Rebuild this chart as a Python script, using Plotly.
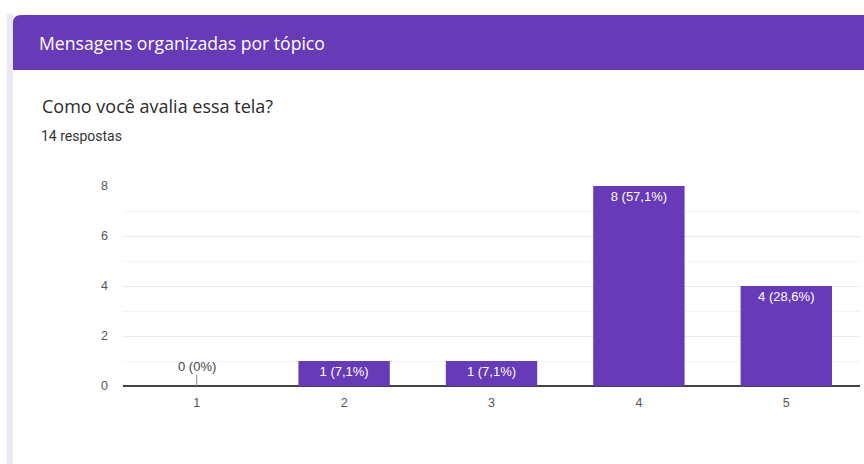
import plotly.graph_objects as go

# Survey results: "Como você avalia essa tela?"
ratings = ["1", "2", "3", "4", "5"]
counts = [0, 1, 1, 8, 4]
total_responses = 14
section_title = "Mensagens organizadas por tópico"
question = "Como você avalia essa tela?"
y_ticks = [0, 2, 4, 6, 8]

W, H = 864, 464
PURPLE = "#673ab7"


def px_x(v):
    return v / W


def px_y(v):
    return 1 - v / H


def fmt_label(n):
    pct = 100 * n / total_responses
    if n == 0:
        return "0 (0%)"
    return f"{n} ({pct:.1f}%)".replace(".", ",")


labels = [fmt_label(c) for c in counts]
bar_text = [lab if c > 0 else "" for lab, c in zip(labels, counts)]

fig = go.Figure(
    go.Bar(
        x=ratings,
        y=counts,
        width=0.62,
        marker=dict(color=PURPLE, line=dict(width=0)),
        text=bar_text,
        textposition="inside",
        insidetextanchor="end",
        textangle=0,
        constraintext="none",
        textfont=dict(family="Liberation Sans, Arial", size=13, color="white"),
        hoverinfo="skip",
    )
)

# Zero-count category: label on a short stem above the baseline
for i, (c, lab) in enumerate(zip(counts, labels)):
    if c == 0:
        fig.add_annotation(
            x=i, y=c, xref="x", yref="y", text=lab,
            showarrow=True, arrowhead=0, arrowwidth=1, arrowcolor="#8a8a8a",
            ax=0, ay=-20, standoff=0,
            font=dict(family="Liberation Sans, Arial", size=13, color="#444444"),
        )

shapes = []
# light side strip of the card
shapes.append(dict(type="rect", xref="paper", yref="paper", layer="below",
                   x0=px_x(7), x1=px_x(13), y0=px_y(H), y1=px_y(14),
                   fillcolor="#ebe8f4", line=dict(width=0)))
# header band with rounded top-left corner
r = 8
x0, x1 = px_x(13), px_x(W + 5)
yt, yb = px_y(15), px_y(70)
path = (
    f"M {x0},{yb} L {x0},{px_y(15 + r)} "
    f"Q {x0},{yt} {px_x(13 + r)},{yt} "
    f"L {x1},{yt} L {x1},{yb} Z"
)
shapes.append(dict(type="path", path=path, xref="paper", yref="paper",
                   fillcolor=PURPLE, line=dict(width=0), layer="below"))

fig.update_layout(shapes=shapes)

fig.add_annotation(x=px_x(37), y=px_y(43), xref="paper", yref="paper",
                   xanchor="left", yanchor="middle", showarrow=False,
                   text=section_title,
                   font=dict(family="Open Sans", size=17.6, color="white"))
fig.add_annotation(x=px_x(40), y=px_y(106), xref="paper", yref="paper",
                   xanchor="left", yanchor="middle", showarrow=False,
                   text=question,
                   font=dict(family="Open Sans", size=18, color="#2b2b2b"))
fig.add_annotation(x=px_x(39), y=px_y(136), xref="paper", yref="paper",
                   xanchor="left", yanchor="middle", showarrow=False,
                   text=f"{total_responses} respostas",
                   font=dict(family="Roboto", size=14, color="#333333"))

fig.update_layout(
    width=W, height=H,
    margin=dict(l=0, r=0, t=0, b=0, autoexpand=False),
    paper_bgcolor="white",
    plot_bgcolor="white",
    showlegend=False,
    xaxis=dict(
        domain=[px_x(123), px_x(860)],
        type="category",
        automargin=False,
        showgrid=False,
        showline=False,
        zeroline=False,
        ticks="",
        ticklabelstandoff=7,
        tickfont=dict(family="Liberation Sans, Arial", size=12.5, color="#555555"),
        fixedrange=True,
    ),
    yaxis=dict(
        domain=[px_y(386), px_y(186)],
        range=[0, 8],
        tickvals=y_ticks,
        automargin=False,
        showgrid=True,
        gridcolor="#e8e8e8",
        gridwidth=1,
        minor=dict(dtick=1, showgrid=True, gridcolor="#f4f4f4", gridwidth=1),
        zeroline=True,
        zerolinecolor="#444444",
        zerolinewidth=1.5,
        showline=False,
        ticks="",
        ticklabelstandoff=14,
        tickfont=dict(family="Liberation Sans, Arial", size=12.5, color="#555555"),
        fixedrange=True,
    ),
)

fig.write_html("out.html")
